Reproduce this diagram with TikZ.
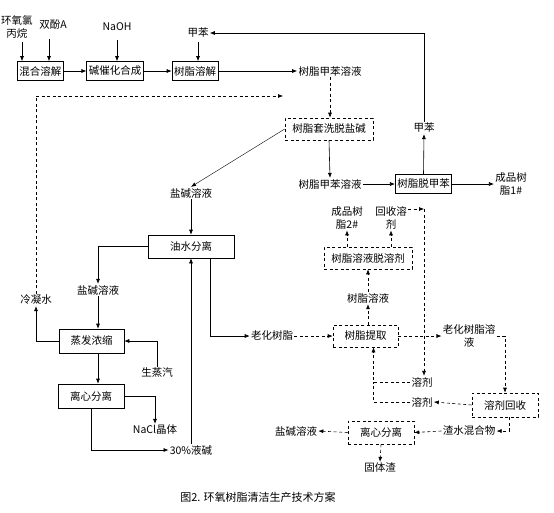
\documentclass[tikz,border=0pt]{standalone}
\usepackage{fontspec}
\newfontfamily\cjk{Noto Sans CJK SC}
\usetikzlibrary{arrows.meta}

\begin{document}
\begin{tikzpicture}[x=1pt, y=-1pt, line width=0.6pt,
	every node/.style={font=\cjk\fontsize{10.5}{12.5}\selectfont, inner sep=1pt, align=center},
	procbox/.style={draw, minimum height=19pt, inner sep=2pt},
	dashbox/.style={procbox, dashed, dash pattern=on 3pt off 2.5pt},
	arr/.style={-{Latex[length=5pt,width=4pt]}},
	darr/.style={arr, dash pattern=on 3pt off 2.5pt},
	dln/.style={dash pattern=on 3pt off 2.5pt},]

\useasboundingbox (0,0) rectangle (554,512);

% Create the nodes
\node (ech) at (17,27) {环氧氯\\丙烷};
\node (bpa) at (53,25) {双酚A};
\node (naoh) at (117,27) {NaOH};
\node (tol1) at (198,33) {甲苯};
\node[procbox, minimum width=45pt] (mix) at (40.5,71) {混合溶解};
\node[procbox, minimum width=56pt] (cat) at (115,71) {碱催化合成};
\node[procbox, minimum width=44pt] (dis) at (195,71) {树脂溶解};
\node (sol1) at (330,71) {树脂甲苯溶液};
\node[dashbox, minimum width=88pt, minimum height=22pt] (wash) at (329,129) {树脂套洗脱盐碱};
\node (brine1) at (191,193) {盐碱溶液};
\node (sol2) at (330,184) {树脂甲苯溶液};
\node[procbox, minimum width=51pt] (detol) at (423.5,184) {树脂脱甲苯};
\node (tol2) at (424,128) {甲苯};
\node (prod1) at (511,184) {成品树\\脂1\#};
\node (cond) at (36,300) {冷凝水};
\coordinate (c1) at (283,96);

\node[procbox, minimum width=86pt, minimum height=23pt] (oil) at (191,246.5) {油水分离};
\node (brine2) at (98,290) {盐碱溶液};
\node[procbox, minimum width=65pt, minimum height=24pt] (evap) at (91.5,341) {蒸发浓缩};
\node (steam) at (157,373) {生蒸汽};
\node[procbox, minimum width=66pt, minimum height=24pt] (cen1) at (91,396) {离心分离};
\node (nacl) at (155,430) {NaCl晶体};
\node (lye) at (191,450) {30\%液碱};
\node (aged) at (272,336) {老化树脂};

\node[dashbox, minimum width=65pt, minimum height=22pt] (extr) at (365.5,336) {树脂提取};
\node (rsol) at (368,298) {树脂溶液};
\node[dashbox, minimum width=88pt, minimum height=22pt] (desol) at (368,258) {树脂溶液脱溶剂};
\node (prod2) at (347,218) {成品树\\脂2\#};
\node (rec) at (391,218) {回收溶\\剂};
\coordinate (c2) at (424,209);
\node (agedsol) at (469,336) {老化树脂溶\\液};
\node (solv1) at (422,382) {溶剂};
\node (solv2) at (422,402) {溶剂};
\node[dashbox, minimum width=66pt, minimum height=24pt] (srec) at (505,405) {溶剂回收};
\node (mix2) at (469,431) {渣水混合物};
\node[dashbox, minimum width=66pt, minimum height=23pt] (cen2) at (381,432.5) {离心分离};
\node (brine3) at (296,431) {盐碱溶液};
\node (slag) at (380,468) {固体渣};

\node[font=\cjk\fontsize{11}{13}\selectfont] (cap) at (258,497) {图2. 环氧树脂清洁生产技术方案};

% top line
\draw[arr, shorten <=3pt] ([xshift=5pt]ech.south) -- ([xshift=5pt]ech.south |- mix.north);
\draw[arr, shorten <=8pt] ([xshift=-4pt]bpa.south) -- ([xshift=-4pt]bpa.south |- mix.north);
\draw[arr, shorten <=8pt] (naoh.south) -- (naoh.south |- cat.north);
\draw[arr, shorten <=3pt] (tol1.south) -- (tol1.south |- dis.north);
\draw[arr] (mix) -- (cat);
\draw[arr] (cat) -- (dis);
\draw[arr] (dis) -- (sol1);

% toluene removal
\draw[darr] (sol1.south) -- (sol1.south |- wash.north);
\draw[arr, line width=0.4pt] (wash.west) -- (brine1.north);
\draw[arr] (wash.south) -- (sol2.north);
\draw[arr] (sol2) -- (detol);
\draw[arr] (detol.north) -- (tol2.south);
\draw[arr] (tol2.north) |- (tol1.east);
\draw[arr] (detol.east) -- (prod1.west);
\draw[darr] (cond.north) |- (c1);

% brine side
\draw[arr] (brine1.south) -- (oil.north);
\draw[arr] (oil.west) -| (brine2.north);
\draw[arr] (brine2.south) -- (brine2.south |- evap.north);
\draw[arr] (evap.west) -| (cond.south);
\draw[arr] (steam.north) |- (evap.east);
\draw[arr] (evap.south -| brine2) -- (cen1.north -| brine2);
\draw[arr] (cen1.east) -| (nacl.north);
\draw[arr] (cen1.south) |- (lye.west);
\draw[arr] (lye.north) -- (lye.north |- oil.south);
\draw[arr] ([xshift=19pt]oil.south) |- (aged.west);

% resin extraction
\draw[darr] (aged.east) -- (extr.west);
\draw[darr] (extr.north -| rsol) -- (rsol.south);
\draw[darr] (rsol.north) -- (desol.south -| rsol);
\draw[darr] (desol.north -| prod2) -- (prod2.south);
\draw[darr] (desol.north -| rec) -- (rec.south);
\draw[darr] (c2 -| rec.east) -- (c2);
\draw[darr] (c2) -- (solv1.north -| c2);
\draw[darr] (extr.east) -- (agedsol.west);
\draw[darr] (agedsol.east) -| (srec.north);
\draw[darr] (solv1.west) -| ([xshift=8pt]extr.south);
\draw[dln] (solv2.west) -| ([xshift=8pt]extr.south |- solv1.west);
\draw[darr] (srec.west) -- (solv2.east);
\draw[darr] ([xshift=4pt]srec.south) |- (mix2.east);
\draw[darr] (mix2.west) -- (cen2.east);
\draw[darr] (cen2.west) -- (brine3.east);
\draw[darr] (cen2.south) -- (slag.north);

\end{tikzpicture}
\end{document}
